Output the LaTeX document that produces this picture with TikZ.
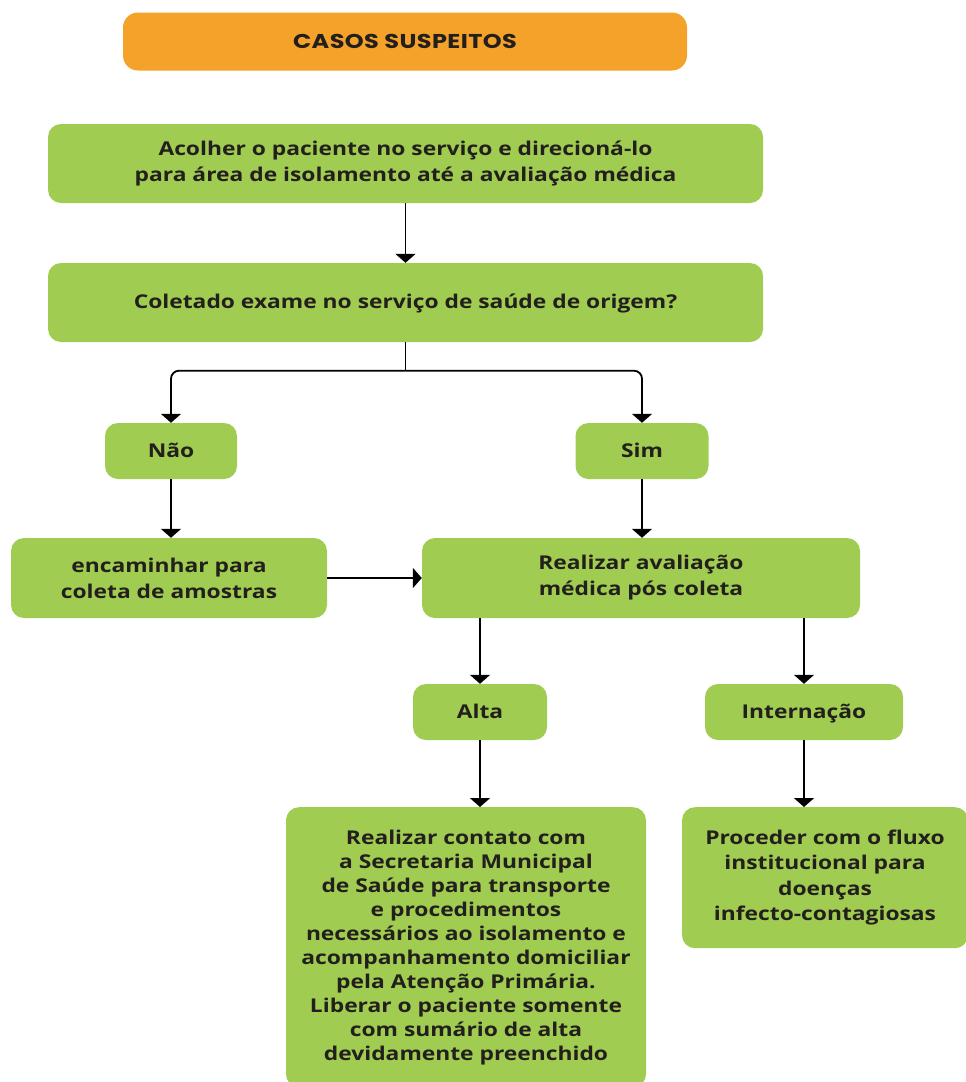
\documentclass[tikz,border=0pt]{standalone}
\usepackage{fontspec}
\setmainfont{Open Sans}[FakeStretch=1.2]
\newfontfamily\headfont{Poppins}[LetterSpace=2,FakeStretch=1.2]
\usetikzlibrary{arrows.meta}
\definecolor{boxgreen}{RGB}{160,204,82}
\definecolor{boxorange}{RGB}{245,162,42}
\definecolor{txt}{RGB}{35,31,28}
\tikzset{
  gbox/.style={fill=boxgreen, rounded corners=13pt, inner sep=0pt, align=center,
    text=txt, font=\fontsize{19}{26}\selectfont\bfseries},
  onebox/.style={gbox, text height=13.5pt, text depth=1.5pt},
  tallbox/.style={gbox, font=\fontsize{19}{24}\selectfont\bfseries},
  obox/.style={fill=boxorange, rounded corners=15pt, inner sep=0pt, align=center,
    text=txt, font=\headfont\fontsize{20}{22}\selectfont\bfseries},
  arr/.style={line width=1.8pt, black, -{Triangle[width=20pt,length=9pt]}},
  ln/.style={line width=1.8pt, black},
}
\begin{document}
\begin{tikzpicture}[x=1pt,y=-1pt]
\useasboundingbox (0,0) rectangle (966,1082);
\node[obox, minimum width=564, minimum height=58] (top) at (405,41.5) {CASOS SUSPEITOS};
\node[gbox, minimum width=715, minimum height=79] (b1) at (405.5,163.5)
  {Acolher o paciente no serviço e direcioná-lo\\para área de isolamento até a avaliação médica};
\node[onebox, minimum width=715, minimum height=79] (b2) at (405.5,302.5)
  {Coletado exame no serviço de saúde de origem?};
\node[onebox, minimum width=132, minimum height=56] (nao) at (171,451) {Não};
\node[onebox, minimum width=133, minimum height=56] (sim) at (642,451) {Sim};
\node[gbox, minimum width=316, minimum height=80] (enc) at (169,578)
  {encaminhar para\\coleta de amostras};
\node[gbox, minimum width=438, minimum height=80] (real) at (641,578)
  {Realizar avaliação\\médica pós coleta};
\node[onebox, minimum width=134, minimum height=56] (alta) at (480,712) {Alta};
\node[onebox, minimum width=198, minimum height=56] (intern) at (804,712) {Internação};
\node[tallbox, minimum width=360, minimum height=280, anchor=north] (big) at (466,807)
  {Realizar contato com\\a Secretaria Municipal\\de Saúde para transporte\\e procedimentos\\necessários ao isolamento e\\acompanhamento domiciliar\\pela Atenção Primária.\\Liberar o paciente somente\\com sumário de alta\\devidamente preenchido};
\node[tallbox, minimum width=286, minimum height=141, anchor=north, font=\fontsize{19}{25.5}\selectfont\bfseries] (rbox) at (825,807)
  {Proceder com o fluxo\\institucional para\\doenças\\infecto-contagiosas};
\draw[arr] (b1.south) -- (b2.north);
\draw[ln] (b2.south) -- ++(0,28.5) coordinate (br);
\draw[arr, rounded corners=8pt] (br) -| (nao.north);
\draw[arr, rounded corners=8pt] (br) -| (sim.north);
\draw[arr] (nao.south) -- (enc.north -| nao.south);
\draw[arr] (sim.south) -- (real.north -| sim.south);
\draw[arr] (enc.east) -- (real.west);
\draw[arr] (real.south -| alta.north) -- (alta.north);
\draw[arr] (real.south -| intern.north) -- (intern.north);
\draw[arr] (alta.south) -- (alta.south |- big.north);
\draw[arr] (intern.south) -- (intern.south |- rbox.north);
\end{tikzpicture}
\end{document}
